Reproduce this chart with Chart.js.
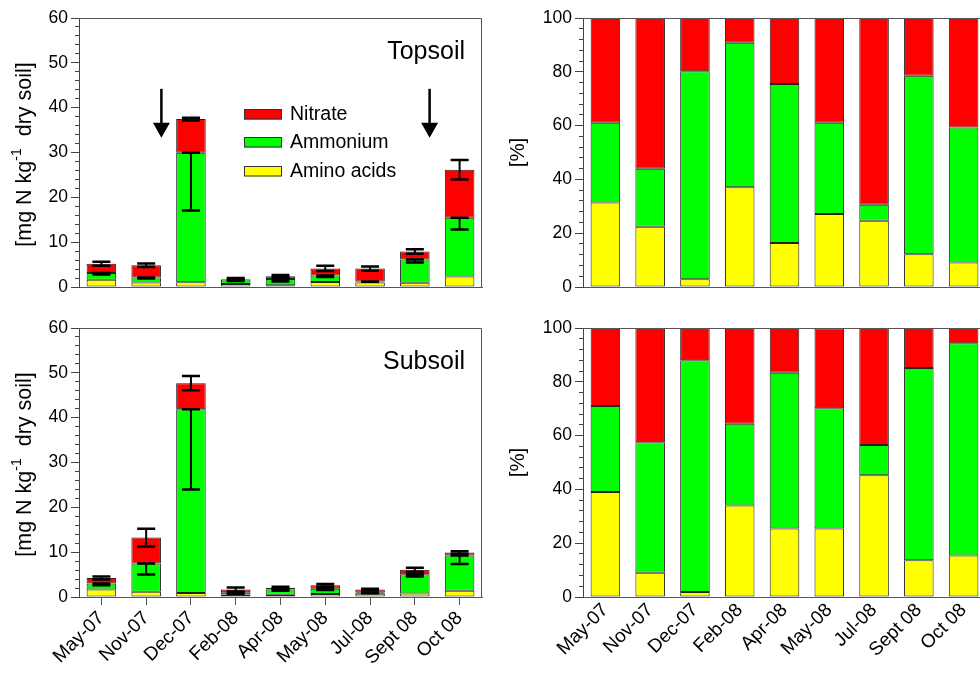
<!DOCTYPE html>
<html>
<head>
<meta charset="utf-8">
<script src="https://cdn.jsdelivr.net/npm/chart.js@4.4.1/dist/chart.umd.min.js"></script>
<style>
  html, body { margin: 0; padding: 0; background: #fff; width: 980px; height: 675px; overflow: hidden; }
  canvas { position: absolute; }
</style>
</head>
<body>
<canvas id="topAbs" width="490" height="310" style="left:0;top:0"></canvas>
<canvas id="subAbs" width="490" height="365" style="left:0;top:310px"></canvas>
<canvas id="topPct" width="510" height="310" style="left:490px;top:0"></canvas>
<canvas id="subPct" width="510" height="365" style="left:490px;top:310px"></canvas>
<script>
// Sampling dates
const months = ['May-07', 'Nov-07', 'Dec-07', 'Feb-08', 'Apr-08', 'May-08', 'Jul-08', 'Sept 08', 'Oct 08'];

// Topsoil, mg N kg-1 dry soil
const topAmino       = [1.6, 1.0, 1.05, 0.65, 0.4, 1.1, 1.0, 0.95, 2.35];
const topAmmonium    = [1.5, 1.1, 28.9, 1.05, 1.4, 1.45, 0.25, 5.2, 13.1];
const topNitrate     = [2.1, 2.75, 7.5, 0.15, 0.6, 1.6, 2.85, 1.75, 10.7];
const topAmmoniumErr = [0.3, 0.2, 12.9, 0.35, 0.6, 0.3, 0.1, 0.7, 2.6];
const topNitrateErr  = [0.45, 0.4, 0.3, 0.15, 0.3, 0.6, 0.45, 0.5, 2.2];

// Subsoil, mg N kg-1 dry soil
const subAmino       = [1.65, 1.15, 0.9, 0.55, 0.5, 0.65, 0.75, 0.8, 1.4];
const subAmmonium    = [1.35, 6.3, 41.0, 0.5, 1.2, 1.2, 0.2, 4.3, 7.85];
const subNitrate     = [1.25, 5.8, 5.8, 0.6, 0.35, 0.75, 0.7, 1.0, 0.65];
const subAmmoniumErr = [0.4, 2.45, 17.9, 0.3, 0.3, 0.3, 0.1, 0.5, 1.9];
const subNitrateErr  = [0.35, 2.0, 1.6, 0.45, 0.25, 0.3, 0.2, 0.45, 0.3];

// Share of each N form, %
const topAminoPct    = [31.4, 22.4, 2.9, 37.1, 16.4, 27.1, 24.6, 12.2, 9.1];
const topAmmoniumPct = [29.7, 21.6, 77.3, 53.7, 59.1, 34.0, 6.0, 66.3, 50.2];
const topNitratePct  = [38.9, 56.0, 19.8, 9.2, 24.5, 38.9, 69.4, 21.5, 40.7];
const subAminoPct    = [39.0, 9.0, 1.9, 34.0, 25.5, 25.5, 45.3, 13.7, 15.4];
const subAmmoniumPct = [32.0, 48.5, 86.1, 30.4, 57.9, 44.7, 11.2, 71.4, 78.9];
const subNitratePct  = [29.0, 42.5, 12.0, 35.6, 16.6, 29.6, 43.5, 14.9, 5.7];

// Fertiliser application dates (position on the category axis) and arrow span
const arrowAt = [1.34, 7.33];
const arrowSpan = [44.2, 33.3];

const seriesNames = ['Amino acids', 'Ammonium', 'Nitrate'];
const seriesColors = ['#ffff00', '#00ff00', '#ff0000'];

const FONT = '"Liberation Sans", Arial, Helvetica, sans-serif';
Chart.defaults.font.family = FONT;
Chart.defaults.color = '#000';

// extra drawing per panel
const extras = {
  topAbs: { label: 'Topsoil', arrows: true, legend: true, unitTitle: true },
  subAbs: { label: 'Subsoil', unitTitle: true },
  topPct: {},
  subPct: {}
};

const framePlugin = {
  id: 'frame',
  afterDatasetsDraw(chart) {
    const { ctx, chartArea: a } = chart;
    ctx.save();
    ctx.strokeStyle = '#555';
    ctx.lineWidth = 1;
    ctx.beginPath();
    const t = Math.round(a.top) + 0.5, r = Math.round(a.right) - 0.5;
    ctx.moveTo(a.left, t);
    ctx.lineTo(r, t);
    ctx.lineTo(r, a.bottom);
    ctx.stroke();
    ctx.restore();
  }
};

const errorBarPlugin = {
  id: 'errorBars',
  afterDatasetsDraw(chart) {
    const { ctx } = chart;
    const y = chart.scales.y;
    chart.data.datasets.forEach((ds, di) => {
      if (!ds.errors) return;
      const meta = chart.getDatasetMeta(di);
      meta.data.forEach((bar, j) => {
        let below = 0;
        for (let k = 0; k < di; k++) below += chart.data.datasets[k].data[j];
        const top = below + ds.data[j];
        const e = ds.errors[j];
        const hi = ds.errorBoth ? top + e : top;
        const lo = top - e;
        const x = bar.x;
        const y1 = y.getPixelForValue(hi), y2 = y.getPixelForValue(lo);
        ctx.save();
        ctx.strokeStyle = '#000';
        ctx.lineWidth = 2;
        ctx.beginPath();
        ctx.moveTo(x, y1); ctx.lineTo(x, y2);
        ctx.stroke();
        ctx.lineWidth = 2.5;
        ctx.beginPath();
        ctx.moveTo(x - 9, y1); ctx.lineTo(x + 9, y1);
        ctx.moveTo(x - 9, y2); ctx.lineTo(x + 9, y2);
        ctx.stroke();
        ctx.restore();
      });
    });
  }
};

const panelPlugin = {
  id: 'panel',
  afterDraw(chart) {
    const ex = extras[chart.canvas.id];
    if (!ex) return;
    const { ctx, chartArea: a, scales: { x, y } } = chart;
    ctx.save();
    ctx.fillStyle = '#000';
    if (ex.label) {
      ctx.font = '25px ' + FONT;
      ctx.textAlign = 'right';
      ctx.textBaseline = 'alphabetic';
      ctx.fillText(ex.label, a.right - 17, a.top + 41);
    }
    if (ex.unitTitle) {
      // [mg N kg^-1 dry soil], rotated, with a superscript exponent
      const parts = [['[mg N kg', 21.5, 0], ['-1', 14, -10], ['  dry soil]', 21.5, 0]];
      let total = 0;
      parts.forEach(p => { ctx.font = p[1] + 'px ' + FONT; total += ctx.measureText(p[0]).width; });
      ctx.translate(31, (a.top + a.bottom) / 2 + 2);
      ctx.rotate(-Math.PI / 2);
      ctx.textAlign = 'left';
      ctx.textBaseline = 'alphabetic';
      let cx = -total / 2;
      parts.forEach(p => {
        ctx.font = p[1] + 'px ' + FONT;
        ctx.fillText(p[0], cx, p[2]);
        cx += ctx.measureText(p[0]).width;
      });
      ctx.setTransform(1, 0, 0, 1, 0, 0);
    }
    if (ex.arrows) {
      arrowAt.forEach(v => {
        const px = x.getPixelForValue(v);
        const yTop = y.getPixelForValue(arrowSpan[0]);
        const yTip = y.getPixelForValue(arrowSpan[1]);
        ctx.strokeStyle = '#000';
        ctx.lineWidth = 2.5;
        ctx.beginPath();
        ctx.moveTo(px, yTop); ctx.lineTo(px, yTip - 12);
        ctx.stroke();
        ctx.beginPath();
        ctx.moveTo(px - 8.5, yTip - 15);
        ctx.lineTo(px + 8.5, yTip - 15);
        ctx.lineTo(px, yTip);
        ctx.closePath();
        ctx.fill();
      });
    }
    if (ex.legend) {
      const rows = [2, 1, 0];
      const offs = [96, 124, 153];
      ctx.font = '19.5px ' + FONT;
      ctx.textAlign = 'left';
      ctx.textBaseline = 'middle';
      rows.forEach((di, i) => {
        const ds = chart.data.datasets[di];
        const cy = a.top + offs[i];
        const bx = a.left + 165;
        ctx.fillStyle = ds.backgroundColor;
        ctx.fillRect(bx, cy - 5, 38, 10.5);
        ctx.strokeStyle = '#333';
        ctx.lineWidth = 1;
        ctx.strokeRect(bx + 0.5, cy - 5 + 0.5, 37, 9.5);
        ctx.fillStyle = '#000';
        ctx.fillText(ds.label, bx + 46, cy + 1);
      });
    }
    ctx.restore();
  }
};

function makeChart(id, series, errs, o) {
  const datasets = series.map((vals, i) => {
    const ds = {
      label: seriesNames[i],
      data: vals,
      backgroundColor: seriesColors[i],
      borderColor: '#222',
      borderWidth: 1,
      borderSkipped: false,
      categoryPercentage: 1,
      barPercentage: 0.66
    };
    if (errs && i === 1) { ds.errors = errs[0]; ds.errorBoth = false; }
    if (errs && i === 2) { ds.errors = errs[1]; ds.errorBoth = true; }
    return ds;
  });
  const major = o.major;
  return new Chart(document.getElementById(id), {
    type: 'bar',
    data: { labels: months, datasets },
    options: {
      responsive: false,
      animation: false,
      events: [],
      layout: { padding: { top: 18, right: o.rightPad, left: 0, bottom: 0 } },
      plugins: { legend: { display: false }, tooltip: { enabled: false } },
      scales: {
        x: {
          stacked: true,
          afterFit(s) { s.height = o.xHeight; },
          border: { color: '#555', width: 1 },
          grid: { offset: false, drawOnChartArea: false, drawTicks: o.xTicks, tickLength: 8, tickColor: '#555' },
          ticks: { display: o.xLabels, autoSkip: false, maxRotation: 45, minRotation: 45, padding: 2, font: { size: 19 } }
        },
        y: {
          stacked: true,
          min: 0,
          max: o.yMax,
          afterFit(s) { s.width = o.axisWidth; },
          border: { color: '#444', width: 1 },
          grid: {
            drawOnChartArea: false,
            tickLength: 8,
            tickColor: '#444',
            tickBorderDash: c => (c.tick && Math.abs(c.tick.value % major) < 1e-6) ? [] : [0, 4, 20, 0]
          },
          ticks: {
            stepSize: o.minor,
            autoSkip: false,
            padding: 3,
            font: { size: 17.5 },
            callback: v => Math.abs(v % major) < 1e-6 ? String(v) : ''
          },
          title: o.title ? { display: true, text: o.title, font: { size: 20.5 }, padding: { top: 16, bottom: 0 } } : { display: false }
        }
      }
    },
    plugins: [framePlugin, errorBarPlugin, panelPlugin]
  });
}

makeChart('topAbs', [topAmino, topAmmonium, topNitrate], [topAmmoniumErr, topNitrateErr],
  { yMax: 60, minor: 2, major: 10, axisWidth: 79, rightPad: 8, xHeight: 23, xTicks: false, xLabels: false });
makeChart('subAbs', [subAmino, subAmmonium, subNitrate], [subAmmoniumErr, subNitrateErr],
  { yMax: 60, minor: 2, major: 10, axisWidth: 79, rightPad: 8, xHeight: 78, xTicks: true, xLabels: true });
makeChart('topPct', [topAminoPct, topAmmoniumPct, topNitratePct], null,
  { yMax: 100, minor: 4, major: 20, axisWidth: 93, rightPad: 14, xHeight: 23, xTicks: false, xLabels: false, title: '[%]' });
makeChart('subPct', [subAminoPct, subAmmoniumPct, subNitratePct], null,
  { yMax: 100, minor: 4, major: 20, axisWidth: 93, rightPad: 14, xHeight: 78, xTicks: false, xLabels: true, title: '[%]' });
</script>
</body>
</html>
